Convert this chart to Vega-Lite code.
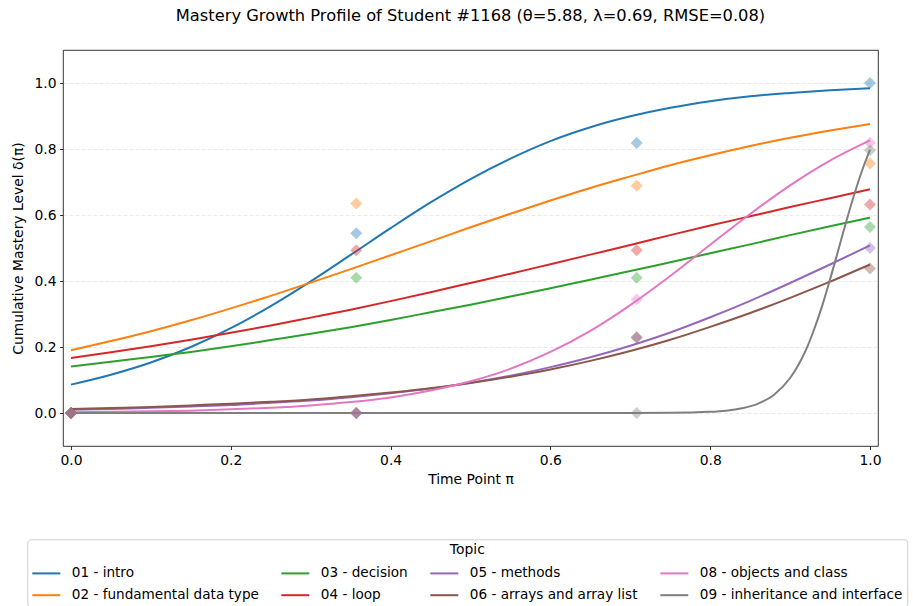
{
  "$schema": "https://vega.github.io/schema/vega-lite/v6.json",
  "width": 815,
  "height": 396,
  "autosize": "none",
  "padding": {"left": 63, "top": 50, "right": 35, "bottom": 160},
  "background": "white",
  "title": {"text": "Mastery Growth Profile of Student #1168 (θ=5.88, λ=0.69, RMSE=0.08)", "font": "DejaVu Sans", "fontSize": 16.3, "fontWeight": "normal", "color": "black", "anchor": "middle", "offset": 26},
  "datasets": {
    "obs": [
      {"topic": "01 - intro", "x": 0, "y": 0},
      {"topic": "02 - fundamental data type", "x": 0, "y": 0},
      {"topic": "03 - decision", "x": 0, "y": 0},
      {"topic": "04 - loop", "x": 0, "y": 0},
      {"topic": "05 - methods", "x": 0, "y": 0},
      {"topic": "06 - arrays and array list", "x": 0, "y": 0},
      {"topic": "08 - objects and class", "x": 0, "y": 0},
      {"topic": "09 - inheritance and interface", "x": 0, "y": 0},
      {"topic": "01 - intro", "x": 0.357, "y": 0.545},
      {"topic": "02 - fundamental data type", "x": 0.357, "y": 0.635},
      {"topic": "03 - decision", "x": 0.357, "y": 0.41},
      {"topic": "04 - loop", "x": 0.357, "y": 0.493},
      {"topic": "05 - methods", "x": 0.357, "y": 0},
      {"topic": "06 - arrays and array list", "x": 0.357, "y": 0},
      {"topic": "08 - objects and class", "x": 0.357, "y": 0},
      {"topic": "09 - inheritance and interface", "x": 0.357, "y": 0},
      {"topic": "01 - intro", "x": 0.708, "y": 0.818},
      {"topic": "02 - fundamental data type", "x": 0.708, "y": 0.689},
      {"topic": "03 - decision", "x": 0.708, "y": 0.41},
      {"topic": "04 - loop", "x": 0.708, "y": 0.493},
      {"topic": "05 - methods", "x": 0.708, "y": 0.23},
      {"topic": "06 - arrays and array list", "x": 0.708, "y": 0.228},
      {"topic": "08 - objects and class", "x": 0.708, "y": 0.344},
      {"topic": "09 - inheritance and interface", "x": 0.708, "y": 0},
      {"topic": "01 - intro", "x": 1.0, "y": 1.0},
      {"topic": "02 - fundamental data type", "x": 1.0, "y": 0.756},
      {"topic": "03 - decision", "x": 1.0, "y": 0.564},
      {"topic": "04 - loop", "x": 1.0, "y": 0.632},
      {"topic": "05 - methods", "x": 1.0, "y": 0.5},
      {"topic": "06 - arrays and array list", "x": 1.0, "y": 0.438},
      {"topic": "08 - objects and class", "x": 1.0, "y": 0.819},
      {"topic": "09 - inheritance and interface", "x": 1.0, "y": 0.796}
    ],
    "curves": [
      {"topic": "01 - intro", "x": 0, "y": 0.086},
      {"topic": "01 - intro", "x": 0.05, "y": 0.116},
      {"topic": "01 - intro", "x": 0.1, "y": 0.153},
      {"topic": "01 - intro", "x": 0.15, "y": 0.2},
      {"topic": "01 - intro", "x": 0.2, "y": 0.257},
      {"topic": "01 - intro", "x": 0.25, "y": 0.324},
      {"topic": "01 - intro", "x": 0.3, "y": 0.399},
      {"topic": "01 - intro", "x": 0.35, "y": 0.479},
      {"topic": "01 - intro", "x": 0.4, "y": 0.56},
      {"topic": "01 - intro", "x": 0.45, "y": 0.638},
      {"topic": "01 - intro", "x": 0.5, "y": 0.709},
      {"topic": "01 - intro", "x": 0.55, "y": 0.771},
      {"topic": "01 - intro", "x": 0.6, "y": 0.824},
      {"topic": "01 - intro", "x": 0.65, "y": 0.866},
      {"topic": "01 - intro", "x": 0.7, "y": 0.899},
      {"topic": "01 - intro", "x": 0.75, "y": 0.925},
      {"topic": "01 - intro", "x": 0.8, "y": 0.945},
      {"topic": "01 - intro", "x": 0.85, "y": 0.96},
      {"topic": "01 - intro", "x": 0.9, "y": 0.97},
      {"topic": "01 - intro", "x": 0.95, "y": 0.978},
      {"topic": "01 - intro", "x": 1.0, "y": 0.984},
      {"topic": "02 - fundamental data type", "x": 0, "y": 0.19},
      {"topic": "02 - fundamental data type", "x": 0.05, "y": 0.218},
      {"topic": "02 - fundamental data type", "x": 0.1, "y": 0.248},
      {"topic": "02 - fundamental data type", "x": 0.15, "y": 0.281},
      {"topic": "02 - fundamental data type", "x": 0.2, "y": 0.317},
      {"topic": "02 - fundamental data type", "x": 0.25, "y": 0.355},
      {"topic": "02 - fundamental data type", "x": 0.3, "y": 0.395},
      {"topic": "02 - fundamental data type", "x": 0.35, "y": 0.436},
      {"topic": "02 - fundamental data type", "x": 0.4, "y": 0.478},
      {"topic": "02 - fundamental data type", "x": 0.45, "y": 0.52},
      {"topic": "02 - fundamental data type", "x": 0.5, "y": 0.563},
      {"topic": "02 - fundamental data type", "x": 0.55, "y": 0.604},
      {"topic": "02 - fundamental data type", "x": 0.6, "y": 0.644},
      {"topic": "02 - fundamental data type", "x": 0.65, "y": 0.682},
      {"topic": "02 - fundamental data type", "x": 0.7, "y": 0.717},
      {"topic": "02 - fundamental data type", "x": 0.75, "y": 0.751},
      {"topic": "02 - fundamental data type", "x": 0.8, "y": 0.781},
      {"topic": "02 - fundamental data type", "x": 0.85, "y": 0.809},
      {"topic": "02 - fundamental data type", "x": 0.9, "y": 0.834},
      {"topic": "02 - fundamental data type", "x": 0.95, "y": 0.856},
      {"topic": "02 - fundamental data type", "x": 1.0, "y": 0.876},
      {"topic": "03 - decision", "x": 0, "y": 0.141},
      {"topic": "03 - decision", "x": 0.05, "y": 0.155},
      {"topic": "03 - decision", "x": 0.1, "y": 0.17},
      {"topic": "03 - decision", "x": 0.15, "y": 0.185},
      {"topic": "03 - decision", "x": 0.2, "y": 0.202},
      {"topic": "03 - decision", "x": 0.25, "y": 0.221},
      {"topic": "03 - decision", "x": 0.3, "y": 0.24},
      {"topic": "03 - decision", "x": 0.35, "y": 0.26},
      {"topic": "03 - decision", "x": 0.4, "y": 0.282},
      {"topic": "03 - decision", "x": 0.45, "y": 0.305},
      {"topic": "03 - decision", "x": 0.5, "y": 0.328},
      {"topic": "03 - decision", "x": 0.55, "y": 0.353},
      {"topic": "03 - decision", "x": 0.6, "y": 0.378},
      {"topic": "03 - decision", "x": 0.65, "y": 0.404},
      {"topic": "03 - decision", "x": 0.7, "y": 0.43},
      {"topic": "03 - decision", "x": 0.75, "y": 0.457},
      {"topic": "03 - decision", "x": 0.8, "y": 0.484},
      {"topic": "03 - decision", "x": 0.85, "y": 0.511},
      {"topic": "03 - decision", "x": 0.9, "y": 0.539},
      {"topic": "03 - decision", "x": 0.95, "y": 0.566},
      {"topic": "03 - decision", "x": 1.0, "y": 0.592},
      {"topic": "04 - loop", "x": 0, "y": 0.167},
      {"topic": "04 - loop", "x": 0.05, "y": 0.184},
      {"topic": "04 - loop", "x": 0.1, "y": 0.202},
      {"topic": "04 - loop", "x": 0.15, "y": 0.222},
      {"topic": "04 - loop", "x": 0.2, "y": 0.243},
      {"topic": "04 - loop", "x": 0.25, "y": 0.265},
      {"topic": "04 - loop", "x": 0.3, "y": 0.289},
      {"topic": "04 - loop", "x": 0.35, "y": 0.313},
      {"topic": "04 - loop", "x": 0.4, "y": 0.339},
      {"topic": "04 - loop", "x": 0.45, "y": 0.366},
      {"topic": "04 - loop", "x": 0.5, "y": 0.394},
      {"topic": "04 - loop", "x": 0.55, "y": 0.422},
      {"topic": "04 - loop", "x": 0.6, "y": 0.451},
      {"topic": "04 - loop", "x": 0.65, "y": 0.48},
      {"topic": "04 - loop", "x": 0.7, "y": 0.509},
      {"topic": "04 - loop", "x": 0.75, "y": 0.539},
      {"topic": "04 - loop", "x": 0.8, "y": 0.568},
      {"topic": "04 - loop", "x": 0.85, "y": 0.596},
      {"topic": "04 - loop", "x": 0.9, "y": 0.624},
      {"topic": "04 - loop", "x": 0.95, "y": 0.651},
      {"topic": "04 - loop", "x": 1.0, "y": 0.678},
      {"topic": "05 - methods", "x": 0, "y": 0.01},
      {"topic": "05 - methods", "x": 0.05, "y": 0.012},
      {"topic": "05 - methods", "x": 0.1, "y": 0.016},
      {"topic": "05 - methods", "x": 0.15, "y": 0.02},
      {"topic": "05 - methods", "x": 0.2, "y": 0.024},
      {"topic": "05 - methods", "x": 0.25, "y": 0.031},
      {"topic": "05 - methods", "x": 0.3, "y": 0.038},
      {"topic": "05 - methods", "x": 0.35, "y": 0.048},
      {"topic": "05 - methods", "x": 0.4, "y": 0.06},
      {"topic": "05 - methods", "x": 0.45, "y": 0.074},
      {"topic": "05 - methods", "x": 0.5, "y": 0.092},
      {"topic": "05 - methods", "x": 0.55, "y": 0.113},
      {"topic": "05 - methods", "x": 0.6, "y": 0.139},
      {"topic": "05 - methods", "x": 0.65, "y": 0.169},
      {"topic": "05 - methods", "x": 0.7, "y": 0.204},
      {"topic": "05 - methods", "x": 0.75, "y": 0.244},
      {"topic": "05 - methods", "x": 0.8, "y": 0.29},
      {"topic": "05 - methods", "x": 0.85, "y": 0.34},
      {"topic": "05 - methods", "x": 0.9, "y": 0.394},
      {"topic": "05 - methods", "x": 0.95, "y": 0.45},
      {"topic": "05 - methods", "x": 1.0, "y": 0.508},
      {"topic": "06 - arrays and array list", "x": 0, "y": 0.012},
      {"topic": "06 - arrays and array list", "x": 0.05, "y": 0.015},
      {"topic": "06 - arrays and array list", "x": 0.1, "y": 0.018},
      {"topic": "06 - arrays and array list", "x": 0.15, "y": 0.023},
      {"topic": "06 - arrays and array list", "x": 0.2, "y": 0.028},
      {"topic": "06 - arrays and array list", "x": 0.25, "y": 0.034},
      {"topic": "06 - arrays and array list", "x": 0.3, "y": 0.041},
      {"topic": "06 - arrays and array list", "x": 0.35, "y": 0.051},
      {"topic": "06 - arrays and array list", "x": 0.4, "y": 0.062},
      {"topic": "06 - arrays and array list", "x": 0.45, "y": 0.075},
      {"topic": "06 - arrays and array list", "x": 0.5, "y": 0.091},
      {"topic": "06 - arrays and array list", "x": 0.55, "y": 0.11},
      {"topic": "06 - arrays and array list", "x": 0.6, "y": 0.132},
      {"topic": "06 - arrays and array list", "x": 0.65, "y": 0.158},
      {"topic": "06 - arrays and array list", "x": 0.7, "y": 0.188},
      {"topic": "06 - arrays and array list", "x": 0.75, "y": 0.222},
      {"topic": "06 - arrays and array list", "x": 0.8, "y": 0.261},
      {"topic": "06 - arrays and array list", "x": 0.85, "y": 0.303},
      {"topic": "06 - arrays and array list", "x": 0.9, "y": 0.349},
      {"topic": "06 - arrays and array list", "x": 0.95, "y": 0.398},
      {"topic": "06 - arrays and array list", "x": 1.0, "y": 0.45},
      {"topic": "08 - objects and class", "x": 0, "y": 0.002},
      {"topic": "08 - objects and class", "x": 0.05, "y": 0.004},
      {"topic": "08 - objects and class", "x": 0.1, "y": 0.005},
      {"topic": "08 - objects and class", "x": 0.15, "y": 0.007},
      {"topic": "08 - objects and class", "x": 0.2, "y": 0.011},
      {"topic": "08 - objects and class", "x": 0.25, "y": 0.016},
      {"topic": "08 - objects and class", "x": 0.3, "y": 0.023},
      {"topic": "08 - objects and class", "x": 0.35, "y": 0.033},
      {"topic": "08 - objects and class", "x": 0.4, "y": 0.047},
      {"topic": "08 - objects and class", "x": 0.45, "y": 0.068},
      {"topic": "08 - objects and class", "x": 0.5, "y": 0.096},
      {"topic": "08 - objects and class", "x": 0.55, "y": 0.134},
      {"topic": "08 - objects and class", "x": 0.6, "y": 0.185},
      {"topic": "08 - objects and class", "x": 0.65, "y": 0.249},
      {"topic": "08 - objects and class", "x": 0.7, "y": 0.327},
      {"topic": "08 - objects and class", "x": 0.75, "y": 0.415},
      {"topic": "08 - objects and class", "x": 0.8, "y": 0.51},
      {"topic": "08 - objects and class", "x": 0.85, "y": 0.603},
      {"topic": "08 - objects and class", "x": 0.9, "y": 0.69},
      {"topic": "08 - objects and class", "x": 0.95, "y": 0.765},
      {"topic": "08 - objects and class", "x": 1.0, "y": 0.826},
      {"topic": "09 - inheritance and interface", "x": 0, "y": 0},
      {"topic": "09 - inheritance and interface", "x": 0.1, "y": 0},
      {"topic": "09 - inheritance and interface", "x": 0.2, "y": 0},
      {"topic": "09 - inheritance and interface", "x": 0.3, "y": 0},
      {"topic": "09 - inheritance and interface", "x": 0.4, "y": 0},
      {"topic": "09 - inheritance and interface", "x": 0.5, "y": 0},
      {"topic": "09 - inheritance and interface", "x": 0.6, "y": 0},
      {"topic": "09 - inheritance and interface", "x": 0.7, "y": 0.0001},
      {"topic": "09 - inheritance and interface", "x": 0.75, "y": 0.0006},
      {"topic": "09 - inheritance and interface", "x": 0.8, "y": 0.0036},
      {"topic": "09 - inheritance and interface", "x": 0.82, "y": 0.0071},
      {"topic": "09 - inheritance and interface", "x": 0.84, "y": 0.0143},
      {"topic": "09 - inheritance and interface", "x": 0.86, "y": 0.0283},
      {"topic": "09 - inheritance and interface", "x": 0.88, "y": 0.0555},
      {"topic": "09 - inheritance and interface", "x": 0.9, "y": 0.106},
      {"topic": "09 - inheritance and interface", "x": 0.91, "y": 0.144},
      {"topic": "09 - inheritance and interface", "x": 0.92, "y": 0.192},
      {"topic": "09 - inheritance and interface", "x": 0.93, "y": 0.253},
      {"topic": "09 - inheritance and interface", "x": 0.94, "y": 0.324},
      {"topic": "09 - inheritance and interface", "x": 0.95, "y": 0.405},
      {"topic": "09 - inheritance and interface", "x": 0.96, "y": 0.491},
      {"topic": "09 - inheritance and interface", "x": 0.97, "y": 0.578},
      {"topic": "09 - inheritance and interface", "x": 0.98, "y": 0.66},
      {"topic": "09 - inheritance and interface", "x": 0.99, "y": 0.734},
      {"topic": "09 - inheritance and interface", "x": 1.0, "y": 0.797}
    ]
  },
  "layer": [
    {
      "data": {"name": "curves"},
      "mark": {"type": "line", "strokeWidth": 2, "interpolate": "monotone"},
      "encoding": {
        "x": {"field": "x", "type": "quantitative", "scale": {"domain": [-0.01, 1.01], "nice": false, "zero": false},
          "axis": {"title": "Time Point π", "values": [0, 0.2, 0.4, 0.6, 0.8, 1.0], "format": ".1f", "grid": false, "labelFlush": false, "titlePadding": 6}},
        "y": {"field": "y", "type": "quantitative", "scale": {"domain": [-0.1, 1.1], "nice": false, "zero": false},
          "axis": {"title": "Cumulative Mastery Level δ(π)", "values": [0, 0.2, 0.4, 0.6, 0.8, 1.0], "format": ".1f", "grid": true, "gridDash": [4, 2], "gridColor": "#e4e4e4", "gridWidth": 0.8, "labelFlush": false, "titlePadding": 8}},
        "color": {"field": "topic", "type": "nominal",
          "scale": {"domain": ["01 - intro", "02 - fundamental data type", "03 - decision", "04 - loop", "05 - methods", "06 - arrays and array list", "08 - objects and class", "09 - inheritance and interface"],
            "range": ["#1f77b4", "#ff7f0e", "#2ca02c", "#d62728", "#9467bd", "#8c564b", "#e377c2", "#7f7f7f"]},
          "legend": {"title": "Topic", "orient": "none", "legendX": -35.7, "legendY": 489.3, "columns": 4,
            "symbolType": "stroke", "symbolSize": 784, "symbolStrokeWidth": 2, "symbolOpacity": 1, "labelOffset": 10.5,
            "columnPadding": 18, "rowPadding": -8.6, "titleAnchor": "middle", "titlePadding": 1, "padding": 4,
            "strokeColor": "#cccccc", "fillColor": "white", "cornerRadius": 3,
            "labelFont": "DejaVu Sans", "labelFontSize": 13.6, "labelColor": "black", "labelLimit": 400,
            "titleFont": "DejaVu Sans", "titleFontSize": 13.9, "titleFontWeight": "normal", "titleColor": "black",
            "encode": {"symbols": {"update": {"opacity": {"value": 1}, "strokeOpacity": {"value": 1}}}}}}
      }
    },
    {
      "data": {"name": "obs"},
      "mark": {"type": "point", "shape": "diamond", "filled": true, "size": 144, "fillOpacity": 0.4},
      "encoding": {
        "x": {"field": "x", "type": "quantitative"},
        "y": {"field": "y", "type": "quantitative"},
        "color": {"field": "topic", "type": "nominal"}
      }
    }
  ],
  "config": {
    "view": {"stroke": "black", "strokeWidth": 0.8},
    "axis": {"domain": false, "labelFont": "DejaVu Sans", "labelFontSize": 13.9, "labelColor": "black", "titleFont": "DejaVu Sans", "titleFontSize": 13.9, "titleFontWeight": "normal", "titleColor": "black", "tickColor": "black", "tickSize": 3.5, "tickWidth": 0.8, "labelPadding": 3.5}
  }
}
